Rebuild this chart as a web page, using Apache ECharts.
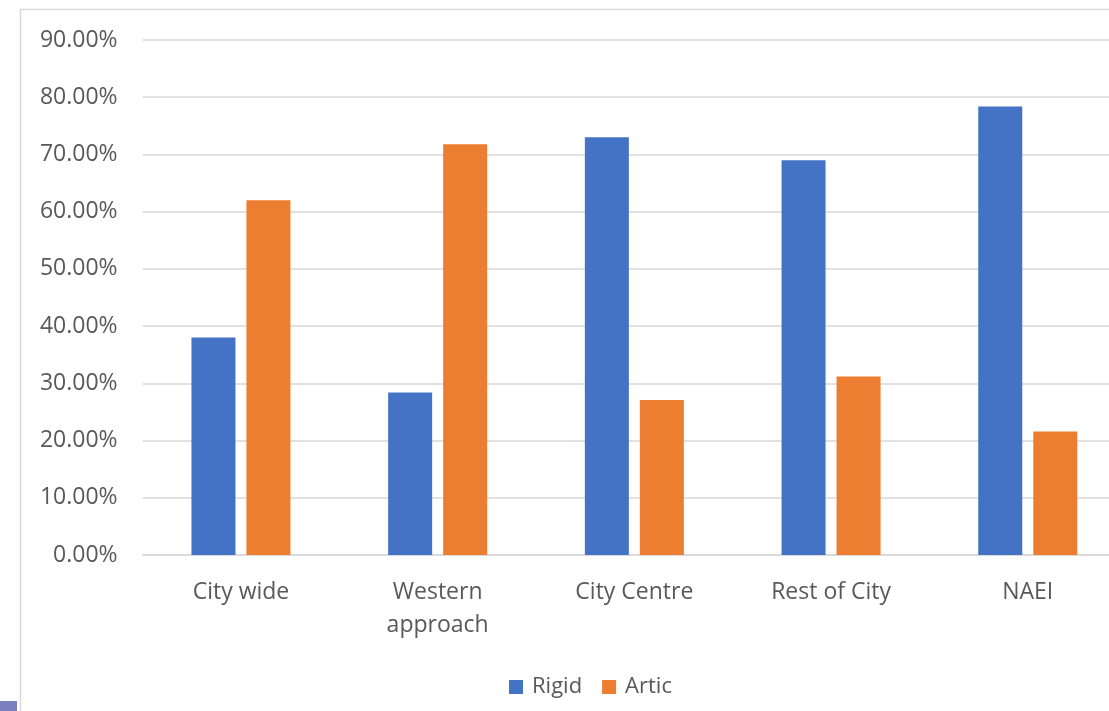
<!DOCTYPE html>
<html>
<head>
<meta charset="utf-8">
<script src="https://cdn.jsdelivr.net/npm/echarts@6/dist/echarts.min.js"></script>
<style>
  html, body { margin: 0; padding: 0; background: #fff; }
  #chart { width: 1109px; height: 711px; }
</style>
</head>
<body>
<div id="chart"></div>
<script>
const categories = ['City wide', 'Western\napproach', 'City Centre', 'Rest of City', 'NAEI']
const rigid = [38.0, 28.4, 73.0, 69.0, 78.4]
const artic = [62.0, 71.8, 27.1, 31.2, 21.6]

const chart = echarts.init(document.getElementById('chart'))
const font = 'Open Sans, Liberation Sans, sans-serif'

chart.setOption({
  animation: false,
  graphic: [
    {
      type: 'rect',
      left: 18, top: 7,
      shape: { width: 1200, height: 800 },
      style: { fill: 'none', stroke: '#d9d9d9', lineWidth: 1.5 },
    },
    {
      type: 'rect',
      left: 0, top: 701,
      shape: { width: 17, height: 10 },
      style: { fill: '#7b7fbf' },
    },
  ],
  // plot area runs past the right edge of the picture
  grid: { left: 142.6, width: 983.5, top: 40, height: 515, outerBoundsMode: 'none', containLabel: false },
  legend: {
    top: 676,
    left: 509,
    padding: 0,
    itemWidth: 14,
    itemHeight: 14,
    itemGap: 20,
    icon: 'rect',
    textStyle: { fontFamily: font, fontSize: 22, color: '#595959', padding: [0, 0, 0, 4] },
    data: ['Rigid', 'Artic'],
  },
  xAxis: {
    type: 'category',
    data: categories,
    axisLine: { lineStyle: { color: '#d9d9d9', width: 1.5 } },
    axisTick: { show: false },
    axisLabel: {
      margin: 21,
      fontFamily: font,
      fontSize: 23,
      lineHeight: 33,
      color: '#595959',
      interval: 0,
    },
  },
  yAxis: {
    type: 'value',
    min: 0,
    max: 90,
    interval: 10,
    axisLine: { show: false },
    axisTick: { show: false },
    splitLine: { lineStyle: { color: '#d9d9d9', width: 1.5 } },
    axisLabel: {
      margin: 25,
      fontFamily: font,
      fontSize: 23,
      color: '#595959',
      formatter: (v) => v.toFixed(2) + '%',
    },
  },
  series: [
    {
      name: 'Rigid',
      type: 'bar',
      data: rigid,
      barWidth: 44,
      barGap: '25%',
      itemStyle: { color: '#4472c4' },
    },
    {
      name: 'Artic',
      type: 'bar',
      data: artic,
      barWidth: 44,
      itemStyle: { color: '#ed7d31' },
    },
  ],
})
</script>
</body>
</html>
